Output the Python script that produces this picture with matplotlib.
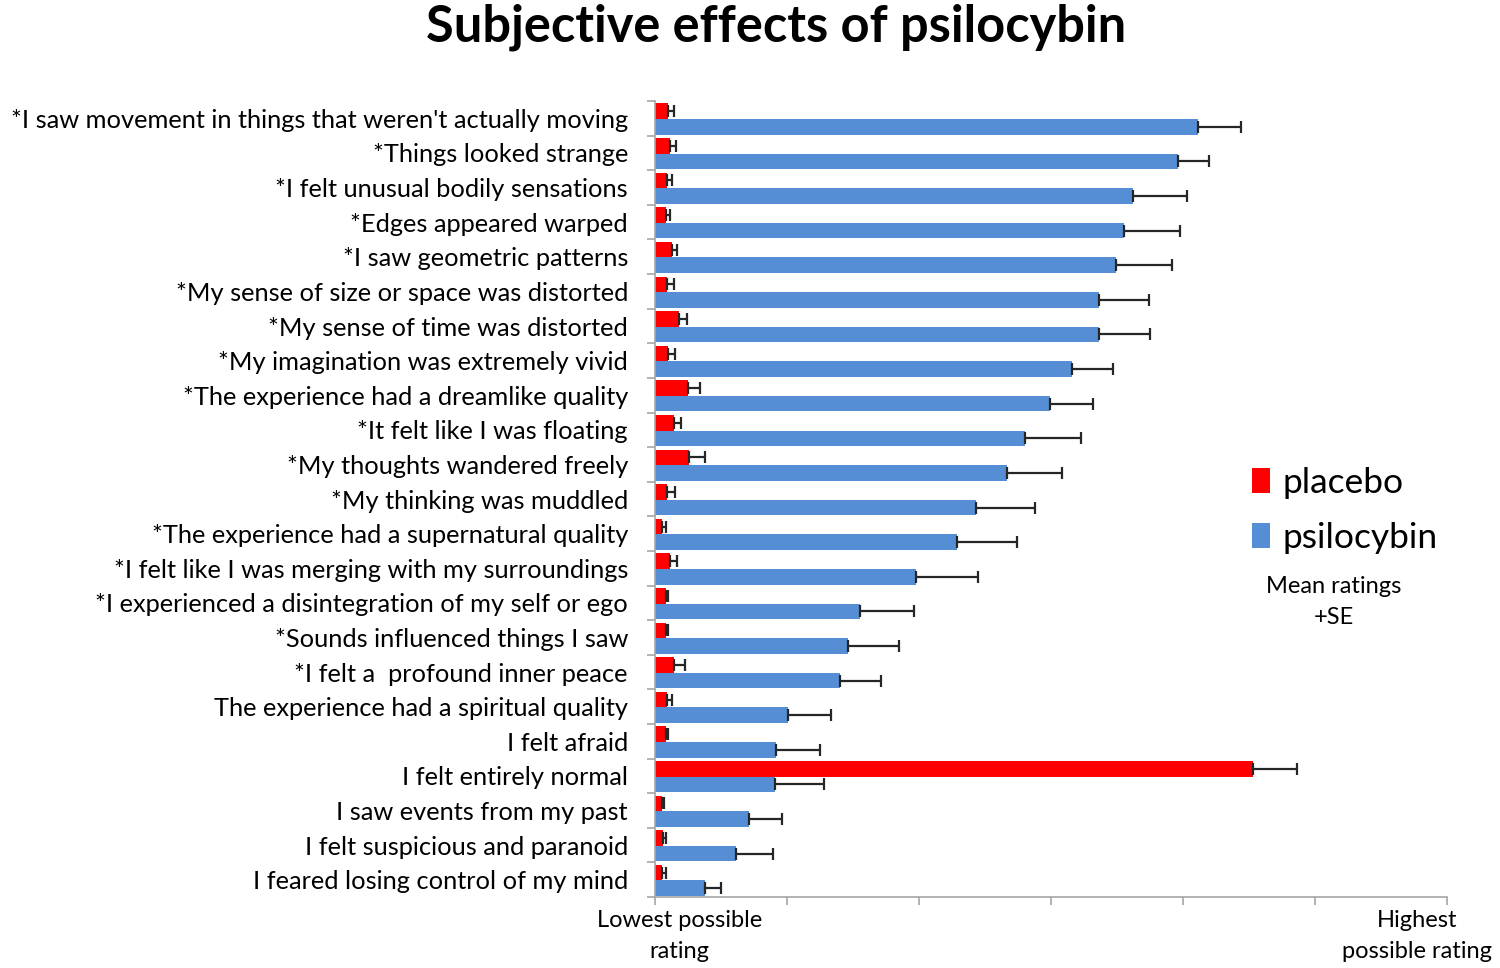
import matplotlib
matplotlib.use("Agg")
import matplotlib.pyplot as plt
import numpy as np

plt.rcParams['font.family'] = ['Lato', 'DejaVu Sans']

items = [
    "*I saw movement in things that weren't actually moving",
    "*Things looked strange",
    "*I felt unusual bodily sensations",
    "*Edges appeared warped",
    "*I saw geometric patterns",
    "*My sense of size or space was distorted",
    "*My sense of time was distorted",
    "*My imagination was extremely vivid",
    "*The experience had a dreamlike quality",
    "*It felt like I was floating",
    "*My thoughts wandered freely",
    "*My thinking was muddled",
    "*The experience had a supernatural quality",
    "*I felt like I was merging with my surroundings",
    "*I experienced a disintegration of my self or ego",
    "*Sounds influenced things I saw",
    "*I felt a  profound inner peace",
    "The experience had a spiritual quality",
    "I felt afraid",
    "I felt entirely normal",
    "I saw events from my past",
    "I felt suspicious and paranoid",
    "I feared losing control of my mind",
]

# rating scale 0 (lowest) .. 6 (highest)
psilocybin = [4.11, 3.96, 3.62, 3.55, 3.49, 3.36, 3.36, 3.16, 2.99, 2.80, 2.67, 2.43,
              2.29, 1.98, 1.55, 1.46, 1.40, 1.01, 0.92, 0.91, 0.71, 0.61, 0.38]
psilocybin_se = [0.33, 0.24, 0.41, 0.43, 0.43, 0.38, 0.39, 0.31, 0.33, 0.43, 0.41, 0.45,
                 0.45, 0.47, 0.41, 0.39, 0.31, 0.32, 0.33, 0.37, 0.25, 0.28, 0.12]
placebo = [0.10, 0.11, 0.09, 0.08, 0.13, 0.09, 0.18, 0.10, 0.25, 0.14, 0.26, 0.09,
           0.05, 0.11, 0.08, 0.08, 0.14, 0.09, 0.08, 4.53, 0.05, 0.06, 0.05]
placebo_se = [0.04, 0.05, 0.04, 0.03, 0.04, 0.05, 0.06, 0.05, 0.09, 0.06, 0.12, 0.06,
              0.03, 0.06, 0.02, 0.02, 0.09, 0.04, 0.02, 0.33, 0.02, 0.02, 0.03]

red = '#FF0000'
blue = '#558ED5'
gray = '#A6A6A6'

fig = plt.figure(figsize=(15, 9.68), dpi=100)
ax = fig.add_axes([0.4367, 0.0733, 0.528, 0.8223])

y = np.arange(len(items))
h = 0.45
err_kw = dict(ecolor='#262626', elinewidth=1.6, capsize=4, capthick=1.6)
ax.barh(y - 0.205, placebo, height=h, color=red, xerr=[np.zeros(len(y)), placebo_se],
        error_kw=err_kw, label='placebo')
ax.barh(y + 0.245, psilocybin, height=h, color=blue, xerr=[np.zeros(len(y)), psilocybin_se],
        error_kw=err_kw, label='psilocybin')

ax.set_xlim(0, 6)
ax.set_ylim(len(items) - 0.5, -0.5)

ax.set_yticks(y)
ax.set_yticklabels(items, fontsize=18.3)
ax.tick_params(axis='y', which='major', length=0, pad=19.5)
ax.set_yticks(np.arange(-0.5, len(items), 1), minor=True)
ax.tick_params(axis='y', which='minor', length=6, color=gray, width=1.2)

ax.set_xticks(np.arange(0, 7, 1))
ax.set_xticklabels([])
ax.tick_params(axis='x', length=6, color=gray, width=1.2)

for s in ['top', 'right']:
    ax.spines[s].set_visible(False)
for s in ['left', 'bottom']:
    ax.spines[s].set_color(gray)
    ax.spines[s].set_linewidth(1.2)

fig.text(0.453, 0.033, "Lowest possible\nrating", ha='center', va='center',
         fontsize=17, linespacing=1.55)
fig.text(0.945, 0.033, "Highest\npossible rating", ha='center', va='center',
         fontsize=17, linespacing=1.55)

fig.text(0.5173, 0.972, "Subjective effects of psilocybin", ha='center', va='center',
         fontsize=36.4, fontweight='bold')

leg = ax.legend(loc='upper left', bbox_to_anchor=(0.8347, 0.5175),
                bbox_transform=fig.transFigure, frameon=False, borderpad=0,
                borderaxespad=0, fontsize=25.5, handlelength=0.52, handleheight=0.7,
                handletextpad=0.35, labelspacing=0.65)
fig.text(0.889, 0.378, "Mean ratings\n+SE", ha='center', va='center',
         fontsize=17, linespacing=1.55)

fig.savefig('out.png', dpi=100)
